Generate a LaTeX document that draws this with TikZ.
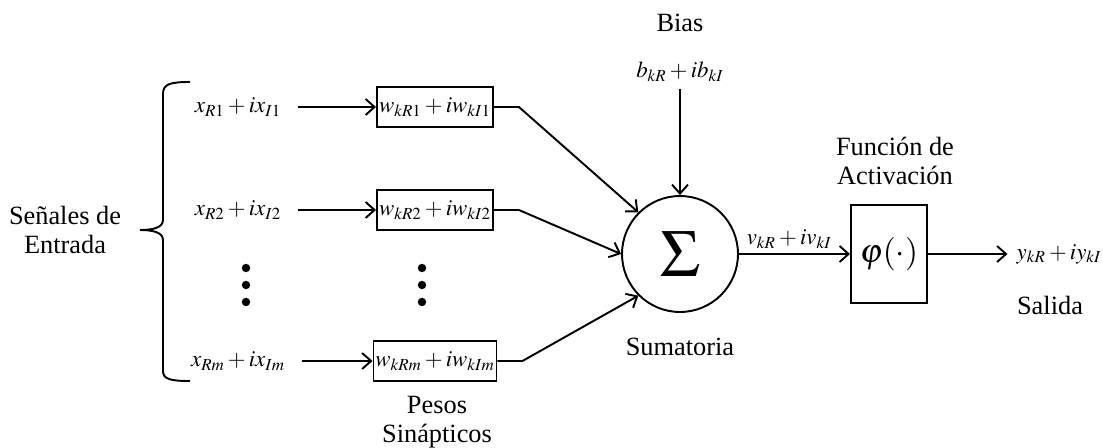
\documentclass[tikz,border=0pt]{standalone}
\usepackage{mathptmx}
\usepackage[no-math]{fontspec}
\setmainfont{Liberation Serif}
\usetikzlibrary{arrows.meta}
\tikzset{
  wbox/.style={draw,minimum width=2.32cm,minimum height=0.8cm,inner sep=1pt},
  lbl/.style={align=center,font=\fontsize{15}{16.5}\selectfont}
}
\begin{document}
\begin{tikzpicture}[x=0.02cm,y=-0.02cm,line width=1.1pt,
  >={Straight Barb[length=1.8mm,width=3.2mm]},
  every node/.style={font=\fontsize{13}{16}\selectfont}]
\useasboundingbox (0,0) rectangle (1103,447);
% entradas
\node (x1) at (238,107) {$x_{R1}+ix_{I1}$};
\node (x2) at (238,210) {$x_{R2}+ix_{I2}$};
\node (xm) at (238,361) {$x_{Rm}+ix_{Im}$};
\node[lbl] (senal) at (65,230) {Señales de\\Entrada};
\draw (190,82) .. controls (170,82) and (163,84) .. (163,94) -- (163,220)
  .. controls (163,228) and (152,230) .. (140,230);
\draw (140,230) .. controls (152,230) and (163,232) .. (163,240) -- (163,371)
  .. controls (163,379) and (170,381) .. (190,381);
% pesos
\node[wbox] (w1) at (435,107) {$w_{kR1}+iw_{kI1}$};
\node[wbox] (w2) at (435,210) {$w_{kR2}+iw_{kI2}$};
\node[wbox] (wm) at (435,361) {$w_{kRm}+iw_{kIm}$};
\node[lbl] (pesos) at (437,422) {Pesos\\Sinápticos};
\foreach \yy in {268,285,302} {
  \fill (246,\yy) circle (2.4pt);
  \fill (422,\yy) circle (2.4pt);
}
\draw[->,shorten <=2mm] (x1) -- (w1);
\draw[->,shorten <=2mm] (x2) -- (w2);
\draw[->,shorten <=2mm] (xm) -- (wm);
% sumatoria
\node[draw,circle,minimum size=2.32cm,inner sep=0pt] (sum) at (680,254)
  {\fontsize{38}{38}\selectfont$\Sigma$};
\node[lbl] (suma) at (680,347) {Sumatoria};
\draw[->] (w1.east) -- ++(25,0) -- (sum.135);
\draw[->] (w2.east) -- ++(25,0) -- (sum.180);
\draw[->] (wm.east) -- ++(25,0) -- (sum.225);
% bias
\node[lbl] (bias) at (680,23) {Bias};
\node (b) at (680,72) {$b_{kR}+ib_{kI}$};
\draw[->] (b) -- (sum);
% activacion
\node[draw,minimum width=1.52cm,minimum height=1.96cm,inner sep=1pt] (phi) at (889,254)
  {\fontsize{19}{20}\selectfont$\varphi(\cdot)$};
\node[lbl] (func) at (895,161) {Función de\\Activación};
\draw[->] (sum) -- node[above=-1pt,xshift=-3pt] {$v_{kR}+iv_{kI}$} (phi);
% salida
\node[anchor=west,inner sep=1pt] (y) at (1014,254) {$y_{kR}+iy_{kI}$};
\node[lbl] (sal) at (1050,305) {Salida};
\draw[->,shorten >=0.13cm] (phi) -- (y);
\end{tikzpicture}
\end{document}
